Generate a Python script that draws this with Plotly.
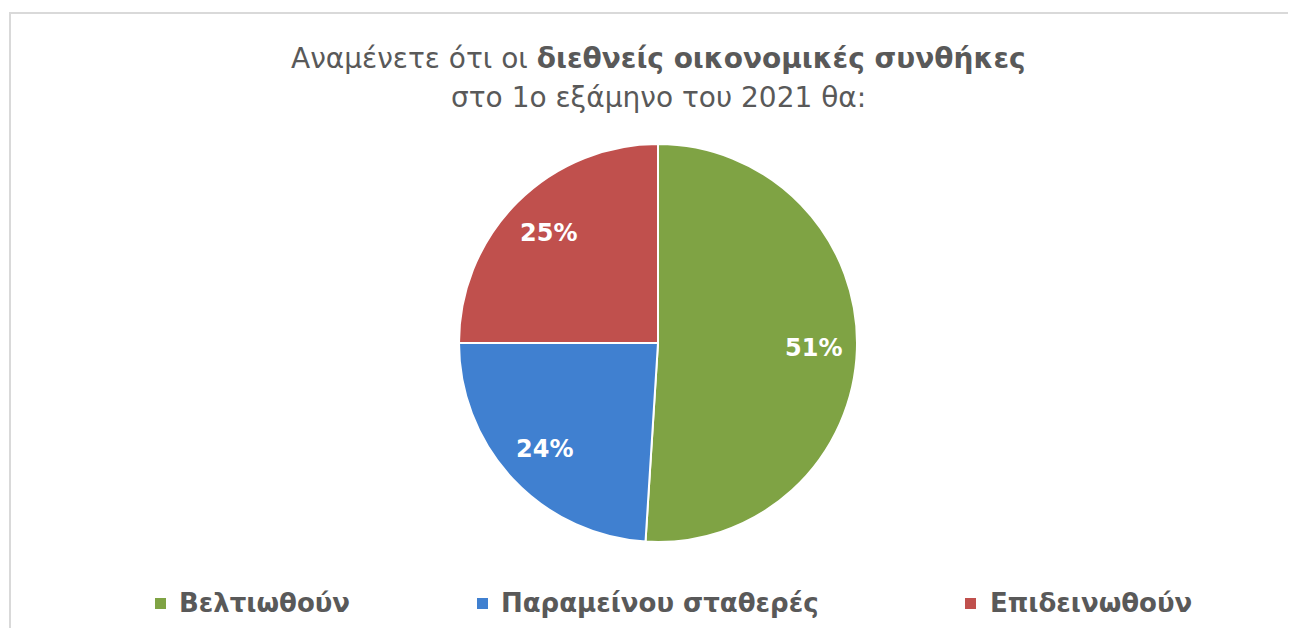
import math
import plotly.graph_objects as go

categories = ["Βελτιωθούν", "Παραμείνουν σταθερές", "Επιδεινωθούν"]
legend_labels = ["Βελτιωθούν", "Παραμείνου σταθερές", "Επιδεινωθούν"]
values = [51, 24, 25]
colors = ["#7FA344", "#4080D0", "#C0504D"]
title_lines = ["Αναμένετε ότι οι <b>διεθνείς οικονομικές συνθήκες</b>",
               "στο 1ο εξάμηνο του 2021 θα:"]

# The page body has an 8px margin: the figure sits at (8, 8) in the window.
OX, OY = 8, 8
W, H = 1296 - OX, 628 - OY
cx, cy, R = 658 - OX, 343 - OY, 199

def px(x):
    return (x - OX) / W

def py(y):
    return 1 - (y - OY) / H

FONT = "DejaVu Sans"

fig = go.Figure(go.Pie(
    labels=categories,
    values=values,
    sort=False,
    direction="clockwise",
    rotation=0,
    marker=dict(colors=colors, line=dict(color="white", width=2)),
    textinfo="none",
    domain=dict(x=[(cx - R) / W, (cx + R) / W], y=[(H - cy - R) / H, (H - cy + R) / H]),
    showlegend=False,
    hoverinfo="label+percent",
))

# percentage labels placed at the middle angle of each slice, 0.78 R from centre
annotations = []
total = sum(values)
cum = 0
for v in values:
    mid = (cum + v / 2) / total * 2 * math.pi
    cum += v
    lx = cx + 0.78 * R * math.sin(mid)
    ly = cy - 0.78 * R * math.cos(mid)
    annotations.append(dict(text=f"<b>{round(v / total * 100)}%</b>", xref="paper", yref="paper",
                            x=lx / W, y=1 - ly / H, xanchor="center", yanchor="middle",
                            showarrow=False,
                            font=dict(family=FONT, size=24, color="white")))

# title, two lines
for line, yy in zip(title_lines, [58, 98]):
    annotations.append(dict(text=line, xref="paper", yref="paper",
                            x=px(658), y=py(yy), xanchor="center", yanchor="middle",
                            showarrow=False,
                            font=dict(family=FONT, size=28, color="#595959")))

shapes = [
    dict(type="line", xref="paper", yref="paper", x0=px(9), x1=1, y0=py(13), y1=py(13),
         line=dict(color="#D9D9D9", width=2)),
    dict(type="line", xref="paper", yref="paper", x0=px(10), x1=px(10), y0=0, y1=py(13),
         line=dict(color="#D9D9D9", width=2)),
]
sq_x = [155, 477, 965]
txt_x = [177, 499, 988]
leg_y = 603
for i, lab in enumerate(legend_labels):
    shapes.append(dict(type="rect", xref="paper", yref="paper",
                       x0=px(sq_x[i]), x1=px(sq_x[i] + 11),
                       y0=py(leg_y + 6), y1=py(leg_y - 5),
                       fillcolor=colors[i], line=dict(width=0)))
    annotations.append(dict(text=f"<b>{lab}</b>", xref="paper", yref="paper",
                            x=px(txt_x[i]), y=py(leg_y), xanchor="left", yanchor="middle",
                            showarrow=False,
                            font=dict(family=FONT, size=26, color="#595959")))

fig.update_layout(
    width=W, height=H,
    margin=dict(l=0, r=0, t=0, b=0),
    paper_bgcolor="white",
    plot_bgcolor="white",
    shapes=shapes,
    annotations=annotations,
)

fig.write_html("out.html")
